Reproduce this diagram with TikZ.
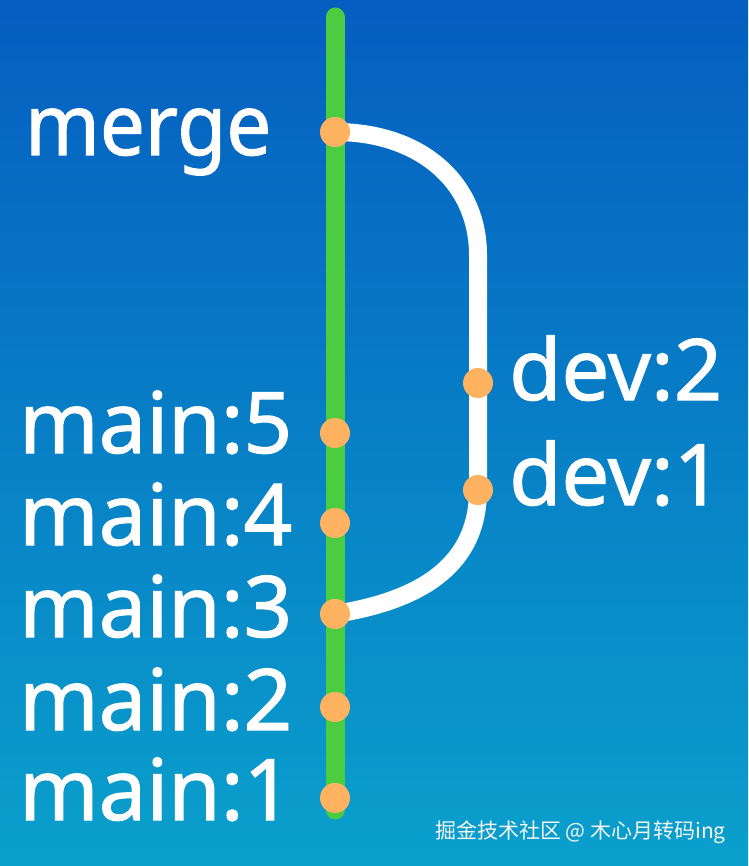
\documentclass[tikz,border=0pt]{standalone}
\usepackage{fontspec}
\setmainfont{Noto Sans}
\newfontfamily\labelfont[FakeBold=1.2]{Noto Sans}
\newfontfamily\mergefont[FakeBold=1.2, FakeStretch=0.94]{Noto Sans}
\newfontfamily\cjk{Noto Sans CJK SC}
\usetikzlibrary{positioning, backgrounds}

\definecolor{bgtop}{RGB}{5,94,192}
\definecolor{bgbot}{RGB}{10,160,204}
\definecolor{trunk}{RGB}{76,204,64}
\definecolor{commitc}{RGB}{255,178,96}

\begin{document}
\begin{tikzpicture}[
  x=1pt, y=-1pt,
  commit/.style={circle, fill=commitc, minimum size=30pt, inner sep=0pt},
  lbl/.style={anchor=base west, inner sep=0pt, text=white, font=\labelfont\fontsize{85}{85}\selectfont},
  mainline/.style={draw=trunk, line width=19pt, line cap=round},
  devline/.style={draw=white, line width=18pt}
]

  \useasboundingbox (0,0) rectangle (748,866);

  \coordinate (top) at (335,17);
  \coordinate (bot) at (335,810);
  \coordinate (turn) at (478,255);

  % commits
  \node[commit] (mg) at (335,132) {};
  \node[commit] (m5) at (335,433) {};
  \node[commit] (m4) at (335,523) {};
  \node[commit] (m3) at (335,614) {};
  \node[commit] (m2) at (335,707) {};
  \node[commit] (m1) at (335,798) {};
  \node[commit] (d2) at (478,383) {};
  \node[commit] (d1) at (478,490) {};

  % background and branches
  \begin{pgfonlayer}{background}
    \fill[top color=bgtop, bottom color=bgbot] (0,0) rectangle (748,866);
    \path[mainline] (top) -- (bot);
    \path[devline] (mg.center) .. controls (420,132) and (478,182) .. (turn)
      -- (d2.center) -- (d1.center) .. controls (478,572) and (410,602) .. (m3.center);
  \end{pgfonlayer}

  % labels
  \node[lbl, font=\mergefont\fontsize{85}{85}\selectfont] (lmg) at (25,155) {merge};
  \node[lbl] (lm5) at (19,453) {main:5};
  \node[lbl] (lm4) at (19,545) {main:4};
  \node[lbl] (lm3) at (19,637) {main:3};
  \node[lbl] (lm2) at (19,730) {main:2};
  \node[lbl] (lm1) at (19,820) {main:1};
  \node[lbl] (ld2) at (509,400) {dev:2};
  \node[lbl] (ld1) at (509,505) {dev:1};

  % watermark
  \node[anchor=base east, inner sep=0pt, text=white!92!gray, font=\cjk\fontsize{21}{21}\selectfont] (mark) at (726,838) {掘金技术社区 @ 木心月转码ing};

\end{tikzpicture}
\end{document}
